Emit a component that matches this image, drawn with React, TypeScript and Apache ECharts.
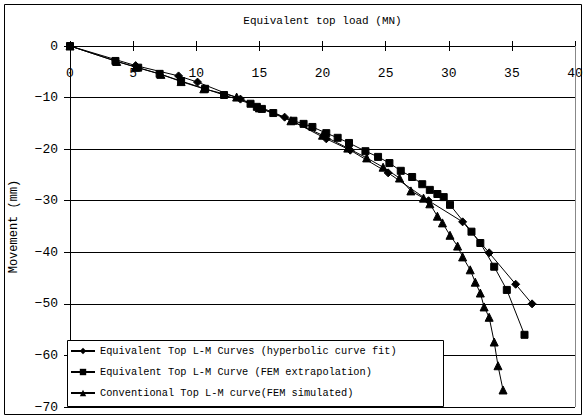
import React, { useEffect, useRef } from "react";
import * as echarts from "echarts";

const xTicks = [0, 5, 10, 15, 20, 25, 30, 35, 40];
const yTicks = [0, -10, -20, -30, -40, -50, -60, -70];

const seriesNames = [
  "Equivalent Top L-M Curves (hyperbolic curve fit)",
  "Equivalent Top L-M Curve (FEM extrapolation)",
  "Conventional Top L-M curve(FEM simulated)",
];

const hyperbolicLoad = [0, 5.2, 8.6, 10.1, 13.5, 17.0, 20.3, 22.2, 25.2, 28.4, 31.1, 33.2, 35.3, 36.6];
const hyperbolicMove = [0, -3.8, -5.8, -7.0, -10.3, -13.8, -18.0, -20.2, -24.6, -30.0, -34.1, -40.1, -46.2, -50.0];

const extrapLoad = [0, 3.6, 5.4, 7.1, 8.8, 10.7, 12.2, 14.3, 14.8, 15.2, 16.1, 17.7, 18.5, 19.2, 20.3, 21.2, 22.1, 23.4, 24.4, 25.3, 26.2, 27.1, 27.9, 28.5, 29.1, 29.6, 30.1, 31.8, 32.5, 33.6, 34.6, 36.0];
const extrapMove = [0, -2.9, -4.2, -5.4, -6.8, -8.3, -9.5, -11.2, -11.8, -12.2, -13.0, -14.5, -15.1, -15.7, -16.9, -17.8, -18.8, -20.4, -21.5, -22.7, -24.2, -25.4, -26.8, -27.9, -28.7, -29.3, -30.8, -36.0, -38.2, -42.8, -47.3, -56.0];

const convLoad = [0, 3.7, 5.2, 7.2, 8.8, 10.6, 13.2, 15.0, 17.5, 20.0, 22.0, 23.5, 24.8, 26.1, 27.0, 28.0, 28.5, 29.1, 29.5, 30.1, 30.7, 31.1, 31.7, 32.1, 32.5, 32.8, 33.2, 33.6, 33.9, 34.3];
const convMove = [0, -3.0, -4.1, -5.5, -6.9, -8.3, -9.9, -12.0, -14.5, -17.3, -19.8, -21.7, -23.5, -25.6, -28.1, -29.5, -30.6, -33.0, -34.3, -36.7, -38.8, -40.9, -43.4, -45.8, -47.9, -50.6, -52.6, -57.4, -62.0, -66.7];

const FONT = "Liberation Mono";

function zip(a: number[], b: number[]) {
  return a.map((v, i) => [v, b[i]]);
}

export default function App() {
  const ref = useRef<HTMLDivElement>(null);
  useEffect(() => {
    document.body.style.margin = "0";
    if (!ref.current) return;
    const chart = echarts.init(ref.current, null, { renderer: "svg" });
    const xMin = xTicks[0];
    const xMax = xTicks[xTicks.length - 1];
    const xInt = xTicks[1] - xTicks[0];
    const yMax = yTicks[0];
    const yMin = yTicks[yTicks.length - 1];
    const yInt = yTicks[0] - yTicks[1];
    const symbols = ["diamond", "rect", "triangle"];
    const sizes = [8, 7, 8];
    const datas = [
      zip(hyperbolicLoad, hyperbolicMove),
      zip(extrapLoad, extrapMove),
      zip(convLoad, convMove),
    ];
    chart.setOption({
      animation: false,
      backgroundColor: "#fff",
      textStyle: { fontFamily: FONT, color: "#000" },
      grid: { left: 66, top: 46, width: 509, height: 361, show: false },
      xAxis: [
        {
          type: "value",
          position: "top",
          min: xMin,
          max: xMax,
          interval: xInt,
          name: "Equivalent top load (MN)",
          nameLocation: "middle",
          nameGap: 20,
          nameTextStyle: { fontFamily: FONT, fontSize: 11, color: "#000" },
          axisLine: { show: true, onZero: false, lineStyle: { color: "#000", width: 1 } },
          axisTick: { show: true, inside: false, length: 5, lineStyle: { color: "#000" } },
          axisLabel: {
            inside: true,
            margin: 21,
            fontFamily: FONT,
            fontSize: 13,
            color: "#000",
          },
          splitLine: { show: false },
        },
        {
          type: "value",
          position: "top",
          min: xMin,
          max: xMax,
          interval: xInt,
          axisLine: { show: false },
          axisTick: { show: true, inside: true, length: 5, lineStyle: { color: "#000" } },
          axisLabel: { show: false },
          splitLine: { show: false },
        },
      ],
      yAxis: {
        type: "value",
        min: yMin,
        max: yMax,
        interval: yInt,
        name: "Movement (mm)",
        nameLocation: "middle",
        nameGap: 50,
        nameRotate: 90,
        nameTextStyle: { fontFamily: FONT, fontSize: 12, color: "#000" },
        axisLine: { show: true, onZero: false, lineStyle: { color: "#000", width: 1 } },
        axisTick: { show: true, inside: false, length: 6, lineStyle: { color: "#000" } },
        axisLabel: {
          margin: 12,
          fontFamily: FONT,
          fontSize: 13,
          color: "#000",
          formatter: (v: number) => (v === 0 ? "0" : "\u2212" + Math.abs(v)),
        },
        splitLine: { show: true, lineStyle: { color: "#000", width: 1 } },
      },
      legend: {
        orient: "vertical",
        left: 68,
        top: 344,
        itemGap: 11,
        itemWidth: 24,
        itemHeight: 8,
        padding: [2, 2, 2, 2],
        z: 20,
        textStyle: { fontFamily: FONT, fontSize: 10.3, color: "#000" },
        data: seriesNames,
      },
      graphic: [
        {
          type: "rect",
          shape: { x: 4.5, y: 4.5, width: 577, height: 410 },
          style: { fill: "none", stroke: "#000", lineWidth: 1 },
          z: 1,
          silent: true,
        },
        {
          type: "line",
          shape: { x1: 575.5, y1: 46, x2: 575.5, y2: 407 },
          style: { stroke: "#888", lineWidth: 1 },
          z: 2,
          silent: true,
        },
        {
          type: "rect",
          shape: { x: 67.5, y: 340.5, width: 376, height: 66 },
          style: { fill: "#fff", stroke: "#000", lineWidth: 1 },
          z: 15,
          silent: true,
        },
      ],
      series: seriesNames.map((n, i) => ({
        name: n,
        type: "line",
        data: datas[i],
        symbol: symbols[i],
        symbolSize: sizes[i],
        showSymbol: true,
        lineStyle: { color: "#000", width: 1 },
        itemStyle: { color: "#000", borderColor: "#000" },
        z: 3 + i,
      })),
    });
    return () => chart.dispose();
  }, []);
  return <div ref={ref} style={{ width: 586, height: 419 }} />;
}
